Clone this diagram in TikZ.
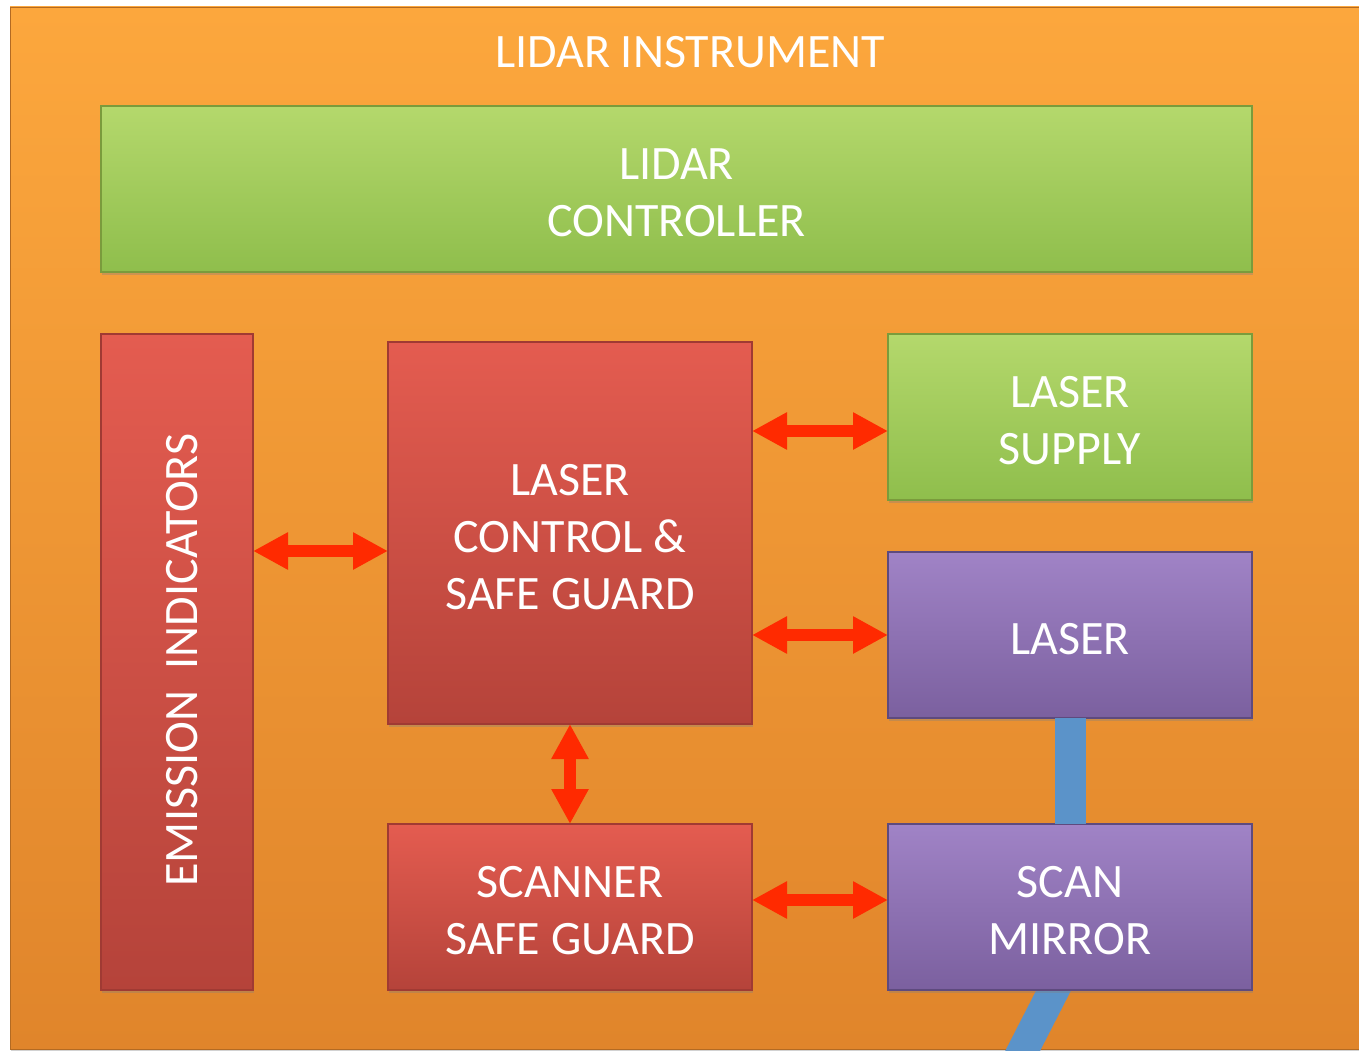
\documentclass[tikz,border=0pt]{standalone}
\usepackage{fontspec}
\setmainfont{Carlito}
\usetikzlibrary{arrows.meta,shadows}

\definecolor{instrtop}{HTML}{FCA73D}
\definecolor{instrbot}{HTML}{E0852B}
\definecolor{greentop}{HTML}{B4D86C}
\definecolor{greenbot}{HTML}{8FBE4C}
\definecolor{greenline}{HTML}{7A9B3C}
\definecolor{redtop}{HTML}{E45C50}
\definecolor{redbot}{HTML}{B5433A}
\definecolor{redline}{HTML}{A03A33}
\definecolor{purptop}{HTML}{A083C6}
\definecolor{purpbot}{HTML}{7B609F}
\definecolor{purpline}{HTML}{5E4A7E}
\definecolor{linkred}{HTML}{FF2A00}
\definecolor{beamblue}{HTML}{5B93C9}

\tikzset{
  bigtext/.style={text=white, align=center, font=\fontsize{48}{57}\selectfont},
  block/.style={rectangle, inner sep=0pt, outer sep=0pt, line width=1.2pt,
    drop shadow={shadow xshift=1pt, shadow yshift=-2.5pt, opacity=0.35}},
  boxtext/.style={label={[bigtext, yshift=-4pt]center:#1}},
  greenbox/.style={block, draw=greenline, top color=greentop, bottom color=greenbot},
  redbox/.style={block, draw=redline, top color=redtop, bottom color=redbot},
  purplebox/.style={block, draw=purpline, top color=purptop, bottom color=purpbot},
  link/.style={linkred, line width=12pt,
    {Triangle[length=35pt,width=35pt]}-{Triangle[length=35pt,width=35pt]}},
  beam/.style={beamblue, line width=31pt}
}

\begin{document}
\begin{tikzpicture}[x=1pt,y=-1pt]
\useasboundingbox (0,0) rectangle (1359,1051);
\fill[white] (0,0) rectangle (1359,1051);
% outer instrument frame
\node[block, draw=instrbot!80!black, line width=0.8pt, top color=instrtop, bottom color=instrbot,
  minimum width=1355pt, minimum height=1042pt] (instr) at (687.5,528) {};
\node[bigtext] (title) at (690,52) {LIDAR INSTRUMENT};

% blue beam leaving the mirror, under the boxes
\coordinate (beamkink) at (1062,974);
\coordinate (beamend) at (1019,1058);
\draw[beam] (beamkink) -- (beamend);

\node[greenbox, minimum width=1151pt, minimum height=166pt, boxtext={LIDAR\\CONTROLLER}] (ctrl) at (676.5,189) {};
\node[redbox, minimum width=152pt, minimum height=656pt] (emit) at (177,662) {};
\node[bigtext, rotate=90] (emitlbl) at (182,660) {EMISSION\ \ INDICATORS};
\node[redbox, minimum width=364pt, minimum height=382pt, boxtext={LASER\\CONTROL \&\\SAFE GUARD}] (lcs) at (570,533) {};
\node[greenbox, minimum width=364pt, minimum height=166pt, boxtext={LASER\\SUPPLY}] (supply) at (1070,417) {};
\node[purplebox, minimum width=364pt, minimum height=166pt, boxtext={LASER}] (laser) at (1070,635) {};
\node[redbox, minimum width=364pt, minimum height=166pt, boxtext={SCANNER\\SAFE GUARD}] (ssg) at (570,907) {};
\node[purplebox, minimum width=364pt, minimum height=166pt, boxtext={SCAN\\MIRROR}] (mirror) at (1070,907) {};

% beam between laser and mirror
\draw[beam] (laser.south) -- (mirror.north);

% links
\coordinate (s1) at ([yshift=-14pt]supply.west);
\coordinate (s2) at ([yshift=-18pt]lcs.west);
\coordinate (s3) at ([yshift=7pt]mirror.west);
\draw[link] (lcs.east |- s1) -- (s1);
\draw[link] (lcs.east |- laser.west) -- (laser.west);
\draw[link] (emit.east |- s2) -- (s2);
\draw[link] (lcs.south) -- (ssg.north);
\draw[link] (ssg.east |- s3) -- (s3);
\end{tikzpicture}
\end{document}
